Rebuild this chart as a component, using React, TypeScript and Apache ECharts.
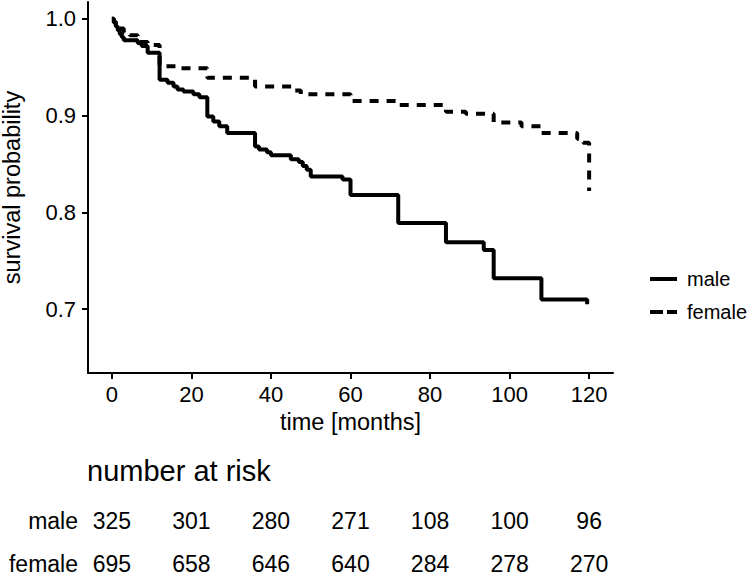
import React, { useEffect, useRef } from "react";
import * as echarts from "echarts";

// ---- data ----
const groups = ["male", "female"];
const maleCurve: [number, number][] = [
  [0, 1.0], [0.5, 0.996], [1, 0.992], [1.5, 0.988], [2, 0.984], [2.5, 0.981], [3, 0.978],
  [6.5, 0.975], [7.5, 0.972], [9, 0.965], [12, 0.937], [14, 0.934], [15.5, 0.93], [16.5, 0.927],
  [18, 0.925], [20.5, 0.922], [22, 0.919], [24, 0.899], [25.5, 0.894], [27, 0.889], [29, 0.882],
  [36, 0.868], [37, 0.865], [39, 0.862], [40, 0.859], [45, 0.855], [47, 0.852], [48, 0.848],
  [49, 0.844], [50, 0.837], [58, 0.834], [60, 0.818], [72, 0.789], [84, 0.769], [93.5, 0.761],
  [96, 0.732], [108, 0.71], [119.5, 0.705],
];
const femaleCurve: [number, number][] = [
  [0, 1.0], [0.5, 0.997], [1, 0.994], [2, 0.99], [3, 0.986], [4.5, 0.983], [6.5, 0.98],
  [7.5, 0.976], [9, 0.973], [12, 0.951], [17, 0.949], [24, 0.939], [36, 0.93], [46, 0.926],
  [47.5, 0.922], [60, 0.915], [72, 0.911], [84, 0.904], [89, 0.902], [96, 0.893], [103, 0.889],
  [108, 0.882], [117, 0.876], [118.5, 0.872], [120, 0.822],
];
const xTicks = [0, 20, 40, 60, 80, 100, 120];
const yTicks = [0.7, 0.8, 0.9, 1.0];
const riskTimes = [0, 20, 40, 60, 80, 100, 120];
const riskMale = [325, 301, 280, 271, 108, 100, 96];
const riskFemale = [695, 658, 646, 640, 284, 278, 270];

const FONT = '"Liberation Sans", Arial, Helvetica, sans-serif';

export default function App() {
  const ref = useRef<HTMLDivElement>(null);
  useEffect(() => {
    if (!ref.current) return;
    const chart = echarts.init(ref.current, null, { renderer: "svg" });
    const riskData: any[] = [];
    riskTimes.forEach((t, i) => {
      riskData.push([t, groups[0], riskMale[i]]);
      riskData.push([t, groups[1], riskFemale[i]]);
    });
    const option: any = {
      animation: false,
      backgroundColor: "#ffffff",
      textStyle: { fontFamily: FONT, color: "#000" },
      title: {
        text: "number at risk",
        left: 87,
        top: 456,
        padding: 0,
        textStyle: { fontFamily: FONT, fontSize: 29, fontWeight: "normal", color: "#000" },
      },
      legend: {
        orient: "vertical",
        left: 648,
        top: 269,
        padding: 0,
        itemWidth: 27,
        itemHeight: 2,
        itemGap: 13,
        selectedMode: false,
        itemStyle: { opacity: 0 },
        lineStyle: { width: 4 },
        data: [
          { name: "male" },
          { name: "female", lineStyle: { type: [13, 4], width: 4 } },
        ],
        textStyle: { fontFamily: FONT, fontSize: 20, lineHeight: 20, color: "#000", padding: [0, 0, 0, 5] },
      },
      grid: [
        { left: 88, top: 2, width: 525, height: 371, containLabel: false, outerBoundsMode: "none" },
        { left: 88, top: 499.5, width: 525, height: 86, containLabel: false, outerBoundsMode: "none" },
      ],
      xAxis: [
        {
          type: "value",
          gridIndex: 0,
          min: -6,
          max: 126,
          splitLine: { show: false },
          axisLine: { show: true, onZero: false, lineStyle: { color: "#000", width: 2 } },
          axisTick: { show: true, customValues: xTicks, length: 6, lineStyle: { color: "#000", width: 2 } },
          axisLabel: { customValues: xTicks, fontSize: 22, color: "#000", margin: 10, fontFamily: FONT },
          name: "time [months]",
          nameLocation: "middle",
          nameGap: 35,
          nameTextStyle: { fontSize: 23.5, color: "#000", fontFamily: FONT },
        },
        { type: "value", gridIndex: 1, min: -6, max: 126, show: false },
      ],
      yAxis: [
        {
          type: "value",
          gridIndex: 0,
          min: 0.634,
          max: 1.0174,
          splitLine: { show: false },
          axisLine: { show: true, onZero: false, lineStyle: { color: "#000", width: 2 } },
          axisTick: { show: true, customValues: yTicks, length: 6, lineStyle: { color: "#000", width: 2 } },
          axisLabel: {
            customValues: yTicks,
            fontSize: 22,
            color: "#000",
            margin: 12,
            fontFamily: FONT,
            formatter: (v: number) => v.toFixed(1),
          },
          name: "survival probability",
          nameLocation: "middle",
          nameGap: 64,
          nameRotate: 90,
          nameTextStyle: { fontSize: 23.5, color: "#000", fontFamily: FONT },
        },
        {
          type: "category",
          gridIndex: 1,
          data: groups,
          inverse: true,
          axisLine: { show: false },
          axisTick: { show: false },
          splitLine: { show: false },
          axisLabel: { fontSize: 23, lineHeight: 20, color: "#000", margin: 10, fontFamily: FONT },
        },
      ],
      series: [
        {
          type: "line",
          name: "male",
          step: "end",
          data: maleCurve,
          symbol: "none",
          lineStyle: { color: "#000", width: 4, type: "solid", cap: "butt" },
          itemStyle: { color: "#000" },
        },
        {
          type: "line",
          name: "female",
          step: "end",
          data: femaleCurve,
          symbol: "none",
          lineStyle: { color: "#000", width: 4, type: [9, 8], cap: "butt" },
          itemStyle: { color: "#000" },
        },
        {
          type: "scatter",
          name: "risk",
          xAxisIndex: 1,
          yAxisIndex: 1,
          data: riskData,
          symbolSize: 1,
          silent: true,
          itemStyle: { color: "transparent", opacity: 1 },
          label: {
            show: true,
            position: "inside",
            formatter: (p: any) => String(p.value[2]),
            fontSize: 23,
            lineHeight: 20,
            color: "#000",
            opacity: 1,
            fontFamily: FONT,
          },
        },
      ],
    };
    chart.setOption(option);
    return () => chart.dispose();
  }, []);
  return (
    <div
      ref={ref}
      style={{ position: "fixed", left: 0, top: 0, width: 747, height: 577, background: "#fff" }}
    />
  );
}
